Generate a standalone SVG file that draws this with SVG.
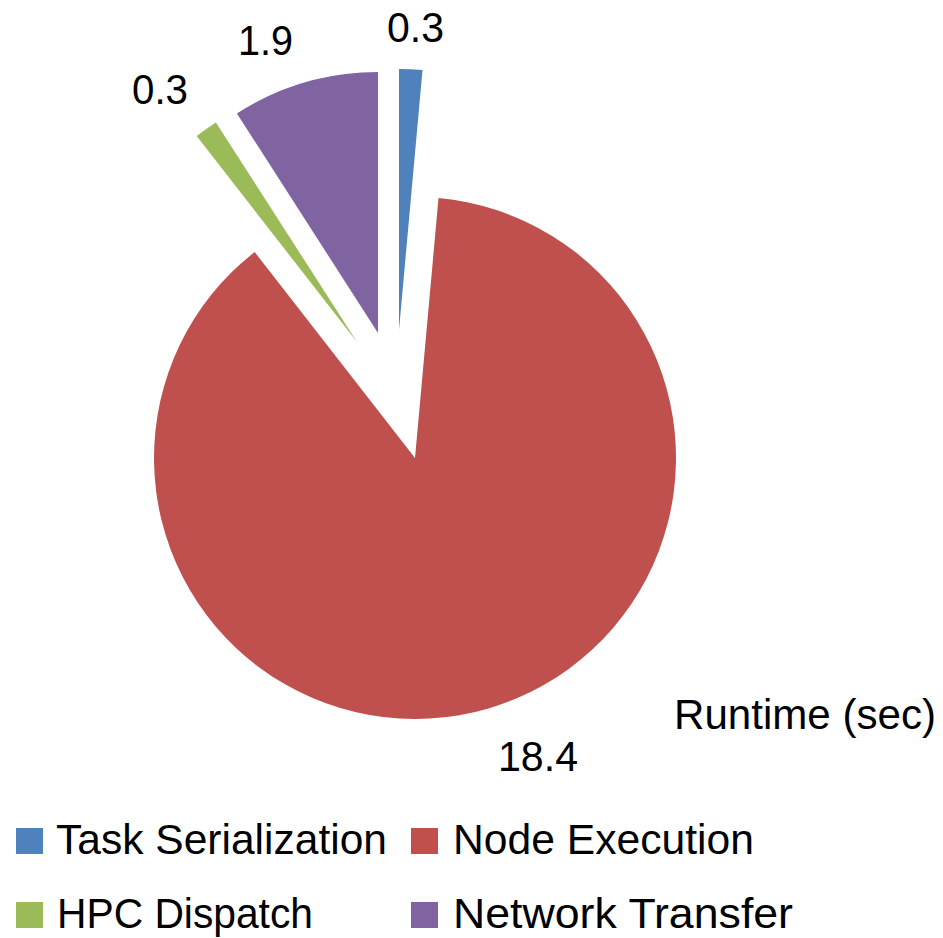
<svg xmlns="http://www.w3.org/2000/svg" width="943" height="938" viewBox="0 0 943 938">
<style>
text{font-family:"Liberation Sans",Arial,sans-serif;font-size:42px;fill:#000}
.blue{fill:#4F81BD}.red{fill:#C0504D}.green{fill:#9BBB59}.purple{fill:#8064A2}
</style>
<rect width="943" height="938" fill="#fff"/>
<g id="slice-task-serialization">
<path class="blue" d="M399,330 L399,69 A261,261 0 0,1 422.51,70.06 Z"/>
<text x="387" y="42" textLength="57" lengthAdjust="spacingAndGlyphs">0.3</text>
</g>
<g id="slice-node-execution">
<path class="red" d="M415,458 L438.51,198.06 A261,261 0 1,1 254.68,252.05 Z"/>
<text x="498" y="771" textLength="80" lengthAdjust="spacingAndGlyphs">18.4</text>
</g>
<g id="slice-hpc-dispatch">
<path class="green" d="M357,342 L196.68,136.05 A261,261 0 0,1 215.90,122.43 Z"/>
<text x="132" y="104" textLength="56" lengthAdjust="spacingAndGlyphs">0.3</text>
</g>
<g id="slice-network-transfer">
<path class="purple" d="M378,333 L236.90,113.43 A261,261 0 0,1 378,72 Z"/>
<text x="238" y="55" textLength="55" lengthAdjust="spacingAndGlyphs">1.9</text>
</g>
<g id="title">
<text x="674" y="729" textLength="262" lengthAdjust="spacingAndGlyphs">Runtime (sec)</text>
</g>
<g id="legend">
<g id="legend-task-serialization"><rect class="blue" x="16" y="828" width="27" height="26"/><text x="56" y="854" textLength="331" lengthAdjust="spacingAndGlyphs">Task Serialization</text></g>
<g id="legend-node-execution"><rect class="red" x="411" y="828" width="27" height="26"/><text x="453" y="854" textLength="301" lengthAdjust="spacingAndGlyphs">Node Execution</text></g>
<g id="legend-hpc-dispatch"><rect class="green" x="16" y="902" width="27" height="26"/><text x="57" y="928" textLength="256" lengthAdjust="spacingAndGlyphs">HPC Dispatch</text></g>
<g id="legend-network-transfer"><rect class="purple" x="411" y="902" width="27" height="26"/><text x="453" y="928" textLength="340" lengthAdjust="spacingAndGlyphs">Network Transfer</text></g>
</g>
</svg>
